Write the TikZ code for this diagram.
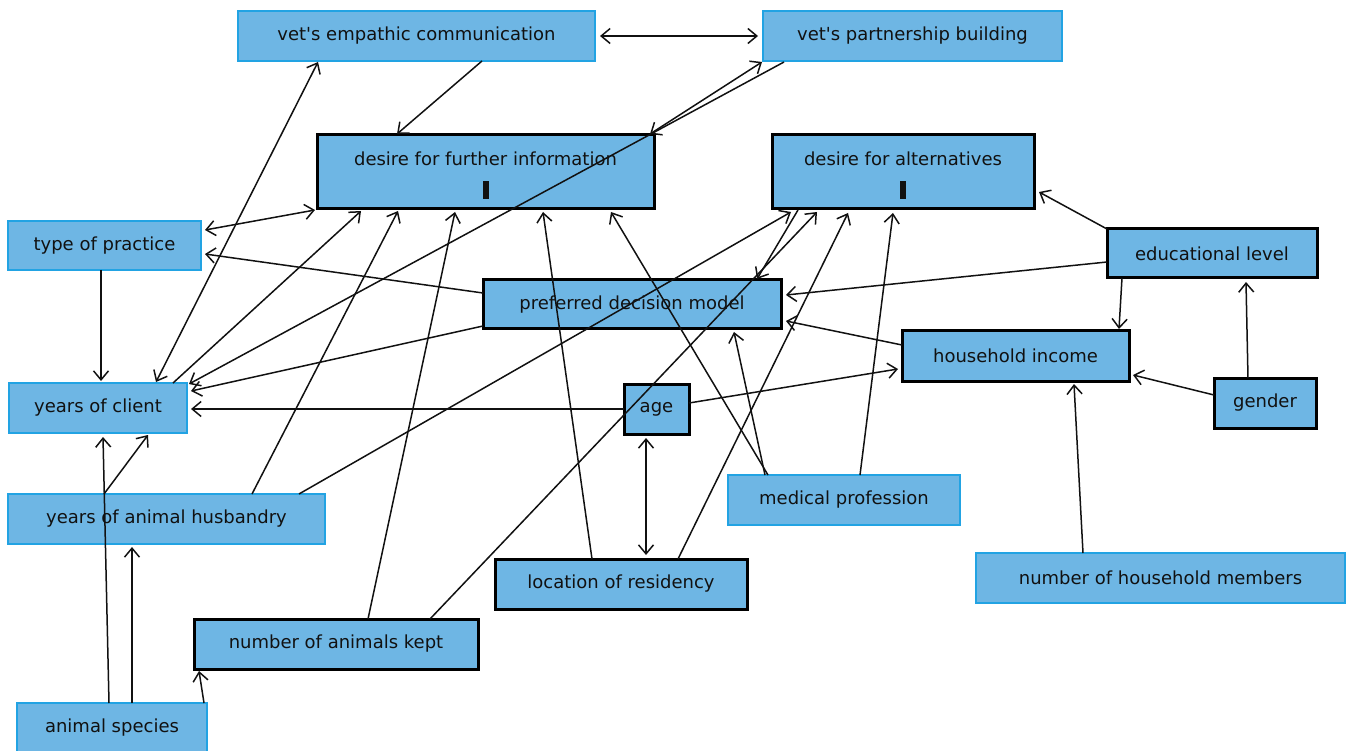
\documentclass[tikz,border=0pt]{standalone}
\usepackage{fontspec}
\setmainfont{DejaVu Sans}
\usetikzlibrary{arrows.meta,calc}
\definecolor{boxfill}{HTML}{6EB6E4}
\definecolor{lightedge}{HTML}{22A3E3}
\definecolor{ink}{HTML}{111111}
\tikzset{
  basebox/.style={rectangle, fill=boxfill, text=ink, font=\fontsize{18}{21.5}\selectfont,
    inner sep=0pt, outer sep=0pt, anchor=center, align=center},
  lightbox/.style={basebox, draw=lightedge, line width=2pt},
  darkbox/.style={basebox, draw=black, line width=3pt},
  conn/.style={line width=1.5pt, draw=ink},
}
\begin{document}
\begin{tikzpicture}[x=1pt, y=-1pt, >={Straight Barb[length=9pt,width=15pt]}]
\useasboundingbox (0,0) rectangle (1347,751);
% nodes
\node[lightbox, minimum width=357, minimum height=50] (ve) at (416.5,36) {vet\textquotesingle s empathic communication};
\node[lightbox, minimum width=299, minimum height=50] (vp) at (912.5,36) {vet\textquotesingle s partnership building};
\node[darkbox, minimum width=337, minimum height=74] (dfi) at (485.5,172) {\rule{0pt}{20pt}desire for further information\\[12pt]\rule{6pt}{18pt}};
\node[darkbox, minimum width=262, minimum height=74] (da) at (903,172) {\rule{0pt}{20pt}desire for alternatives\\[12pt]\rule{6pt}{18pt}};
\node[lightbox, minimum width=193, minimum height=49] (tp) at (104.5,245.5) {type of practice};
\node[darkbox, minimum width=298, minimum height=49] (pdm) at (632,304.5) {preferred decision model};
\node[darkbox, minimum width=210, minimum height=49] (el) at (1212,253.5) {educational level};
\node[darkbox, minimum width=227, minimum height=50] (hi) at (1015.5,356) {household income};
\node[lightbox, minimum width=178, minimum height=50] (yc) at (98,408) {years of client};
\node[darkbox, minimum width=65, minimum height=50] (age) at (656.5,409) {age};
\node[darkbox, minimum width=102, minimum height=50] (gender) at (1265,403) {gender};
\node[lightbox, minimum width=317, minimum height=50] (yah) at (166.5,519) {years of animal husbandry};
\node[lightbox, minimum width=232, minimum height=50] (mp) at (844,500) {medical profession};
\node[darkbox, minimum width=252, minimum height=50] (lr) at (621,584) {location of residency};
\node[lightbox, minimum width=369, minimum height=50] (nhm) at (1160.5,578) {number of household members};
\node[darkbox, minimum width=284, minimum height=50] (nak) at (336,644) {number of animals kept};
\node[lightbox, minimum width=190, minimum height=50] (as) at (112,728) {animal species};
% connectors
\draw[conn,<->] ($(ve.north west)+(362,25)$) -- ($(vp.north west)+(-5,25)$);
\draw[conn,->] ($(ve.north west)+(244,50)$) -- ($(dfi.north west)+(80,-1)$);
\draw[conn,<->] ($(vp.north west)+(-1,51)$) -- ($(dfi.north west)+(333,-1)$);
\draw[conn,->] ($(vp.north west)+(21,51)$) -- ($(yc.north west)+(180,1)$);
\draw[conn,<->] ($(ve.north west)+(80,51)$) -- ($(yc.north west)+(147,-1)$);
\draw[conn,->] ($(yc.north west)+(164,0)$) -- ($(dfi.north west)+(44,76)$);
\draw[conn,->] ($(age.north west)+(0,25)$) -- ($(yc.north west)+(182,26)$);
\draw[conn,->] ($(tp.north west)+(93,49)$) -- ($(yc.north west)+(92,-2)$);
\draw[conn,<->] ($(tp.north west)+(197,9)$) -- ($(dfi.north west)+(-2,75)$);
\draw[conn,->] ($(pdm.north west)+(0,13)$) -- ($(tp.north west)+(197,33)$);
\draw[conn,->] ($(pdm.north west)+(0,46)$) -- ($(yc.north west)+(182,8)$);
\draw[conn,->] ($(yah.north west)+(96,0)$) -- ($(yc.north west)+(139,52)$);
\draw[conn,->] ($(as.north west)+(92,0)$) -- ($(yc.north west)+(94,54)$);
\draw[conn,->] ($(as.north west)+(115,0)$) -- ($(yah.north west)+(124,53)$);
\draw[conn,->] ($(as.north west)+(187,0)$) -- ($(nak.north west)+(5,52)$);
\draw[conn,->] ($(yah.north west)+(244,0)$) -- ($(dfi.north west)+(81,76)$);
\draw[conn,->] ($(yah.north west)+(291,0)$) -- ($(da.north west)+(19,77)$);
\draw[conn,->] ($(nak.north west)+(174,0)$) -- ($(dfi.north west)+(138,77)$);
\draw[conn,->] ($(nak.north west)+(236,0)$) -- ($(da.north west)+(45,77)$);
\draw[conn,->] ($(lr.north west)+(97,0)$) -- ($(dfi.north west)+(226,77)$);
\draw[conn,->] ($(lr.north west)+(183,0)$) -- ($(da.north west)+(76,78)$);
\draw[conn,->] ($(mp.north west)+(132,0)$) -- ($(da.north west)+(121,78)$);
\draw[conn,->] ($(mp.north west)+(40,0)$) -- ($(dfi.north west)+(294,77)$);
\draw[conn,->] ($(mp.north west)+(37,0)$) -- ($(pdm.north west)+(251,52)$);
\draw[conn,->] ($(da.north west)+(26,75)$) -- ($(pdm.north west)+(274,-1)$);
\draw[conn,<->] ($(age.north west)+(22,54)$) -- ($(lr.north west)+(151,-4)$);
\draw[conn,->] ($(age.north west)+(65,19)$) -- ($(hi.north west)+(-4,38)$);
\draw[conn,->] ($(el.north west)+(0,33)$) -- ($(pdm.north west)+(303,15)$);
\draw[conn,->] ($(hi.north west)+(0,14)$) -- ($(pdm.north west)+(303,41)$);
\draw[conn,->] ($(el.north west)+(0,0)$) -- ($(da.north west)+(267,57)$);
\draw[conn,->] ($(el.north west)+(15,49)$) -- ($(hi.north west)+(217,-2)$);
\draw[conn,->] ($(gender.north west)+(34,0)$) -- ($(el.north west)+(139,53)$);
\draw[conn,->] ($(gender.north west)+(0,17)$) -- ($(hi.north west)+(231,44)$);
\draw[conn,->] ($(nhm.north west)+(107,0)$) -- ($(hi.north west)+(172,53)$);
\end{tikzpicture}
\end{document}
